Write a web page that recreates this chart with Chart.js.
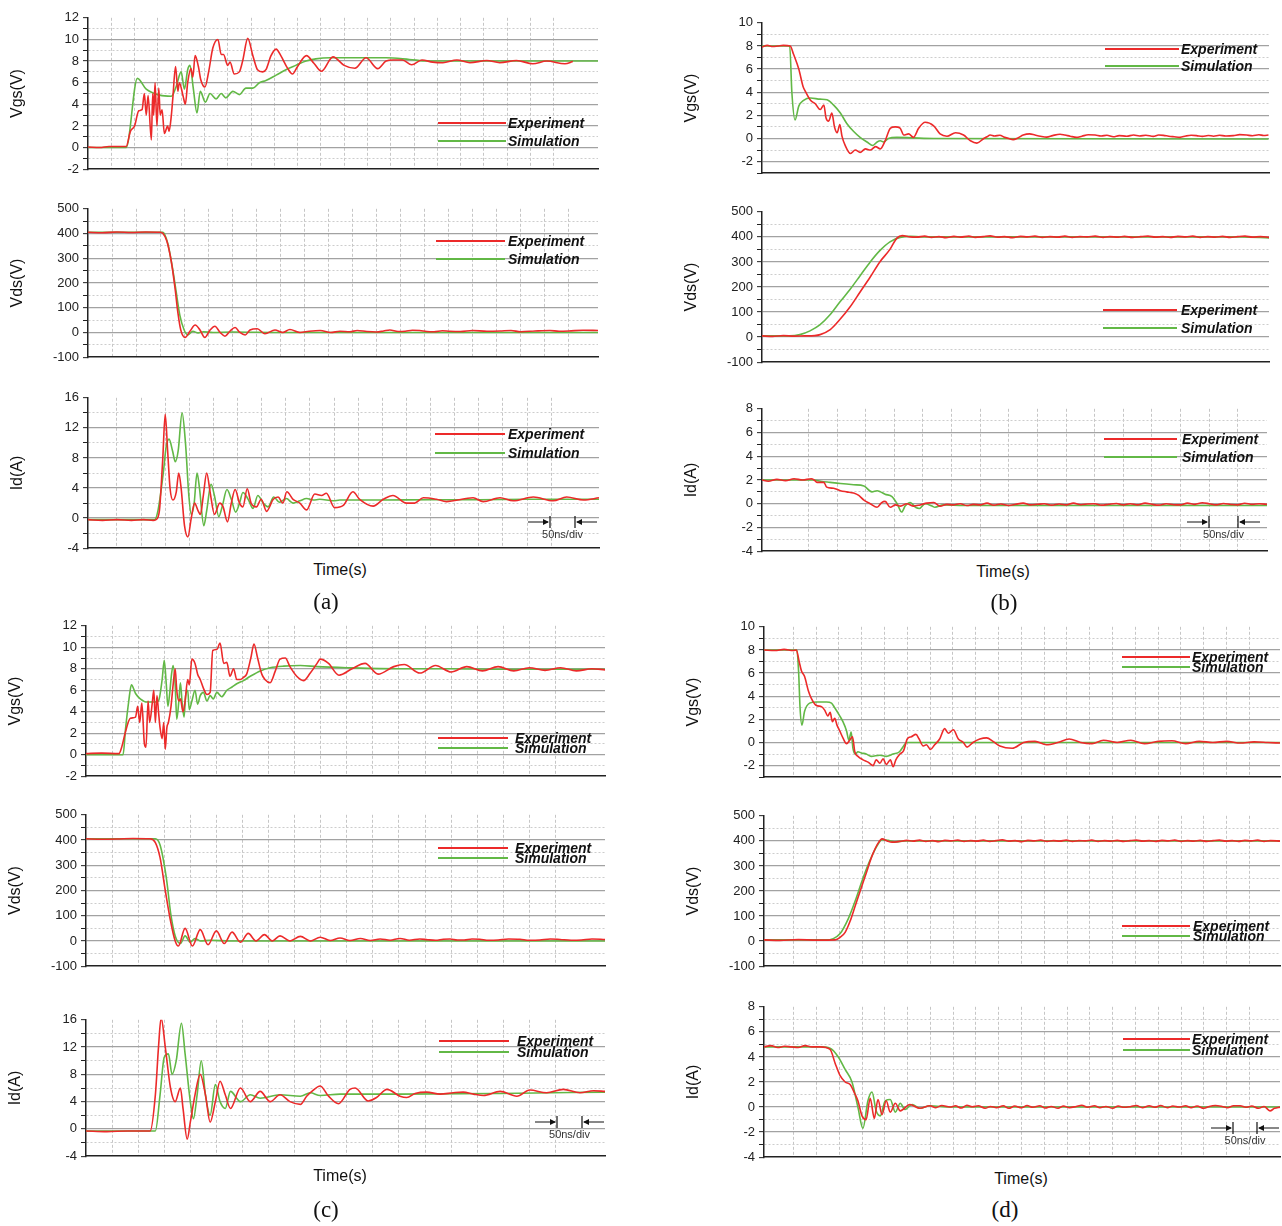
<!DOCTYPE html>
<html lang="en">
<head>
<meta charset="UTF-8">
<title>Switching waveforms: experiment vs simulation</title>
<script src="https://cdn.jsdelivr.net/npm/chart.js"></script>
<style>
  body { margin: 0; background: #fff; width: 1282px; height: 1226px; position: relative; overflow: hidden;
         font-family: "Liberation Sans", Arial, sans-serif; }
  canvas { position: absolute; }
  .lbl { position: absolute; font-size: 16px; color: #111; transform: translate(-50%, -50%); white-space: nowrap; }
  .cap { position: absolute; font-family: "Liberation Serif", "Times New Roman", serif; font-size: 23px; color: #111;
         transform: translate(-50%, -50%); }
</style>
</head>
<body>
<script>
// time in ns (50 ns per grid division), values in V or A

// ---- (a) ----
const aVgsExp = [[0,0.05],[25,0.0],[45,0.1],[82,0.1],[91,1.5],[100,2.0],[109,3.4],[116,3.5],[121,5.0],[125,3.0],[129,4.8],[136,0.7],[139,5.0],[141,3.0],[144,6.0],[148,2.0],[152,5.5],[155,3.0],[159,3.5],[164,1.3],[171,2.0],[174,1.5],[179,3.0],[182,4.5],[188,7.5],[193,5.2],[196,6.0],[204,4.8],[209,4.0],[214,6.0],[221,7.3],[225,6.5],[230,8.5],[237,7.5],[242,6.3],[251,5.6],[259,7.0],[268,9.2],[279,10.0],[286,8.6],[291,8.6],[300,7.6],[305,7.9],[314,6.8],[325,7.0],[332,8.0],[343,10.1],[354,8.5],[364,7.2],[375,7.0],[382,7.2],[393,8.5],[404,9.1],[414,8.5],[429,7.3],[439,6.8],[450,7.5],[469,8.5],[485,7.8],[501,7.06],[526,8.39],[550,7.6],[573,7.33],[597,8.3],[622,7.3],[640,8.0],[655,8.1],[675,8.1],[695,7.66],[717,8.1],[740,7.9],[762,7.85],[792,8.1],[820,7.85],[856,8.05],[884,7.85],[920,8.05],[955,7.75],[985,8.0],[1024,7.75],[1041,7.95]];
const aVgsSim = [[0,0],[82,0],[106,6.4],[125,5.4],[154,4.85],[179,4.75],[189,5.6],[200,7.0],[207,5.4],[214,7.2],[219,7.6],[226,5.5],[234,3.2],[241,5.2],[252,4.2],[262,5.0],[275,4.5],[286,5.0],[296,4.6],[311,5.2],[325,4.9],[339,5.5],[354,5.5],[368,6.0],[382,6.2],[404,6.7],[425,7.2],[446,7.6],[468,8.0],[489,8.2],[520,8.3],[640,8.3],[690,8.15],[730,8.0],[1095,8.0]];
const aVdsExp = [[0,405],[30,403],[60,406],[90,404],[120,406],[150,405],[156,400],[164,370],[173,290],[181,180],[187,80],[193,10],[202,-20],[212,5],[223,30],[233,10],[243,-20],[254,10],[264,25],[275,0],[285,-15],[295,5],[306,20],[316,0],[327,-10],[337,10],[352,15],[368,-5],[389,10],[405,0],[420,12],[441,0],[460,5],[483,8],[505,0],[524,5],[545,3],[560,8],[580,4],[600,2],[615,6],[628,10],[645,4],[660,5],[675,9],[690,8],[705,4],[720,3],[737,7],[753,5],[775,4],[800,8],[830,5],[857,6],[880,8],[900,3],[930,6],[961,8],[980,5],[1000,6],[1030,9],[1061,8]];
const aVdsSim = [[0,405],[156,405],[166,360],[175,270],[183,170],[191,70],[200,10],[208,-10],[218,5],[229,-2],[240,3],[260,0],[300,2],[400,0],[1061,0]];
const aIdExp = [[-10,-0.2],[20,-0.3],[50,-0.2],[80,-0.3],[105,-0.2],[125,-0.3],[131,-0.2],[138,1],[145,8],[150,13.8],[155,9],[160,4],[166,2.4],[173,3.5],[178,6],[183,4],[190,-1],[197,-2.5],[204,0],[211,2.0],[218,1],[223,0.5],[229,3],[236,6],[243,3.5],[252,0.5],[263,2],[270,1.5],[279,-0.5],[287,2],[295,3.8],[304,2],[311,1.5],[320,3.9],[328,2],[339,1.5],[349,2.5],[360,0.9],[374,2.5],[384,2.8],[394,2.0],[402,3.5],[415,2.5],[429,2.0],[443,1.1],[460,3.2],[474,3.0],[484,3.3],[501,1.4],[519,1.7],[539,3.5],[553,2.5],[581,1.6],[602,2.5],[622,3.0],[650,2.0],[667,2.0],[685,2.7],[712,2.5],[733,2.2],[747,2.3],[788,2.7],[809,2.2],[844,2.7],[871,2.3],[913,2.8],[954,2.3],[982,2.8],[1017,2.4],[1049,2.7]];
const aIdSim = [[-10,-0.2],[128,-0.2],[135,1],[146,6],[152,9.5],[158,10.5],[165,9],[171,7.5],[177,9],[185,14],[192,10],[199,3],[204,0.5],[210,2],[216,6],[221,4],[230,-1],[236,1],[245,4.5],[252,3],[261,0.2],[268,1.5],[278,3.8],[287,2.5],[296,0.8],[304,2],[311,3.4],[322,2.5],[332,1.3],[342,3.0],[353,2],[363,1.5],[375,2.8],[387,2.1],[401,2.6],[415,2.0],[429,2.3],[443,2.6],[457,2.4],[470,2.5],[498,2.3],[512,2.4],[540,2.4],[600,2.4],[700,2.45],[800,2.45],[900,2.5],[1049,2.5]];

// ---- (b) ----
const bVgsExp = [[0,7.9],[10,8.05],[20,7.95],[30,8.0],[40,8.05],[53,8.0],[59,7.3],[69,6.0],[77,4.5],[81,4.1],[91,3.3],[100,3.0],[109,2.5],[116,2.9],[120,1.8],[125,1.5],[131,2.2],[136,1.0],[141,0.5],[146,1.2],[150,0.2],[156,-0.6],[166,-1.3],[175,-1.0],[184,-1.2],[194,-0.9],[203,-1.0],[213,-0.7],[222,-0.9],[231,-0.2],[241,0.9],[250,1.0],[259,0.9],[266,0.3],[275,0.4],[284,0.1],[294,0.9],[306,1.4],[322,1.1],[334,0.4],[347,0.2],[363,0.5],[378,0.3],[391,-0.2],[403,-0.4],[416,0.0],[422,0.15],[428,0.3],[436,0.22],[446,0.28],[455,0.1],[463,0.0],[471,-0.1],[480,0.05],[490,0.3],[502,0.4],[512,0.3],[522,0.2],[534,0.12],[545,0.25],[559,0.37],[568,0.3],[578,0.2],[590,0.1],[600,0.2],[612,0.32],[625,0.3],[636,0.22],[647,0.28],[659,0.15],[670,0.25],[684,0.2],[697,0.3],[708,0.22],[720,0.28],[734,0.18],[744,0.3],[753,0.27],[763,0.2],[773,0.15],[784,0.1],[795,0.22],[805,0.28],[815,0.25],[826,0.18],[837,0.26],[847,0.2],[858,0.28],[870,0.22],[884,0.25],[896,0.33],[909,0.3],[920,0.24],[932,0.32],[941,0.26],[950,0.3]];
const bVgsSim = [[0,8],[52,8],[56,4],[62,1.6],[69,2.8],[78,3.3],[91,3.5],[109,3.4],[122,3.35],[134,2.9],[147,2.2],[159,1.3],[172,0.6],[184,0.1],[197,-0.3],[208,-0.6],[216,-0.3],[222,-0.2],[228,-0.3],[237,0.0],[253,0.1],[284,0.05],[322,0.0],[950,-0.05]];
const bVdsExp = [[0,5],[20,3],[40,6],[60,4],[80,5],[99,6],[109,10],[128,30],[146,70],[165,120],[184,180],[203,240],[221,300],[240,350],[253,395],[263,405],[278,400],[290,399],[305,403],[318,398],[332,401],[345,397],[360,402],[372,399],[388,403],[400,398],[415,401],[428,404],[442,399],[455,401],[470,397],[485,402],[498,400],[512,403],[526,398],[540,401],[555,399],[568,403],[582,398],[596,401],[610,400],[625,403],[640,398],[652,401],[668,399],[680,402],[695,398],[710,401],[724,403],[738,399],[752,401],[766,398],[780,402],[795,400],[808,403],[822,398],[836,401],[850,399],[864,402],[878,398],[892,401],[906,403],[920,399],[935,401],[951,398]];
const bVdsSim = [[0,5],[52,5],[71,10],[90,25],[109,50],[128,90],[146,140],[165,190],[184,245],[203,300],[221,345],[240,380],[259,398],[278,402],[300,400],[900,400],[951,396]];
const bIdExp = [[-31,2.0],[-20,1.9],[-5,2.05],[10,1.95],[25,2.1],[40,2.0],[55,2.1],[60,2.0],[65,1.8],[77,1.8],[82,1.4],[94,1.3],[106,1.1],[117,1.0],[129,0.9],[138,0.7],[147,0.3],[158,0.0],[170,-0.3],[178,0.1],[184,0.2],[193,-0.3],[202,-0.1],[211,-0.2],[222,0.0],[234,-0.2],[245,-0.1],[257,0.05],[269,0.1],[280,-0.2],[292,-0.05],[303,-0.1],[315,0.0],[327,-0.15],[338,-0.05],[350,-0.1],[362,0.05],[374,-0.12],[386,-0.02],[400,-0.15],[412,-0.05],[425,0.05],[438,-0.1],[450,-0.05],[462,0.0],[475,-0.12],[488,-0.02],[500,-0.1],[513,0.05],[526,-0.08],[538,-0.02],[550,0.0],[562,-0.12],[575,-0.04],[588,0.02],[600,-0.1],[612,0.0],[625,-0.1],[638,0.05],[650,-0.05],[662,-0.12],[675,0.0],[688,-0.08],[700,-0.1],[712,0.05],[725,-0.05],[738,0.08],[750,0.0],[762,-0.1],[775,0.02],[788,-0.06],[800,-0.1],[812,0.04],[825,-0.05],[838,0.0],[851,-0.05]];
const bIdSim = [[-31,2.0],[60,2.0],[71,1.9],[88,1.8],[106,1.7],[129,1.6],[147,1.5],[161,1.0],[170,1.1],[176,1.0],[184,0.8],[196,0.6],[205,0.0],[213,-0.7],[219,-0.2],[228,0.1],[237,-0.3],[244,-0.4],[254,0.0],[266,-0.2],[271,-0.3],[286,-0.1],[321,-0.15],[851,-0.15]];

// ---- (c) ----
const cVgsExp = [[0,0.1],[30,0.15],[63,0.1],[69,0.8],[75,2.0],[85,3.4],[95,3.5],[99,4.5],[103,3.0],[107,4.8],[112,1.0],[115,0.7],[119,5.0],[122,3.0],[127,4.8],[130,6.0],[133,3.0],[136,5.5],[139,4.0],[142,2.5],[146,1.5],[149,3.0],[152,0.5],[155,2.5],[158,3.0],[163,4.5],[167,6.5],[171,8.0],[174,6.0],[178,5.0],[181,5.2],[186,4.0],[190,5.0],[195,7.0],[198,6.5],[203,8.9],[209,8.5],[214,7.5],[219,7.0],[225,6.2],[232,5.6],[238,5.8],[243,9.7],[251,9.8],[257,10.4],[264,8.5],[270,8.6],[276,7.3],[283,8.0],[289,7.0],[296,7.0],[302,7.2],[308,7.5],[316,9.0],[322,10.3],[329,9.0],[337,7.5],[343,7.0],[353,6.7],[363,7.8],[372,8.9],[382,9.0],[391,8.2],[404,7.3],[417,6.9],[430,7.6],[443,8.5],[449,8.9],[465,8.5],[485,7.4],[510,8.0],[535,8.5],[560,7.5],[590,8.2],[610,8.4],[640,7.6],[670,8.3],[700,7.7],[730,8.2],[760,7.8],[790,8.2],[820,7.8],[850,8.1],[880,7.85],[910,8.1],[940,7.8],[970,8.0],[995,7.9]];
const cVgsSim = [[0,0],[71,0],[76,2.5],[82,5.0],[87,6.5],[95,5.7],[104,5.2],[117,4.9],[133,4.9],[139,5.0],[146,7.0],[150,8.8],[154,6.5],[157,4.5],[160,5.5],[164,7.5],[167,8.3],[171,6.5],[174,3.3],[178,5.0],[181,6.7],[184,5.0],[188,3.5],[191,5.5],[195,6.0],[198,4.2],[203,5.0],[209,6.0],[214,4.7],[219,5.5],[225,5.8],[232,5.0],[238,5.5],[244,5.2],[251,5.8],[260,5.4],[270,6.0],[280,6.3],[289,6.6],[302,6.9],[315,7.3],[334,7.8],[353,8.1],[379,8.25],[411,8.3],[443,8.2],[500,8.1],[600,8.0],[700,8.0],[800,7.95],[995,7.95]];
const cVdsExp = [[0,405],[30,403],[60,404],[90,406],[123,405],[133,390],[142,330],[152,200],[162,80],[171,0],[177,-20],[190,50],[204,-20],[219,45],[234,-15],[250,40],[265,-10],[280,35],[296,-5],[311,30],[326,0],[342,25],[357,0],[372,20],[391,0],[411,18],[430,0],[449,15],[468,2],[487,12],[506,2],[526,10],[545,2],[564,8],[583,3],[602,10],[620,3],[640,8],[655,5],[670,3],[685,7],[698,8],[712,4],[725,4],[740,8],[755,7],[772,3],[790,4],[810,8],[832,7],[850,3],[870,4],[890,8],[909,6],[930,3],[950,4],[970,8],[995,6]];
const cVdsSim = [[0,405],[133,405],[142,380],[154,250],[163,100],[171,20],[181,-10],[190,20],[200,-5],[209,10],[219,0],[238,3],[276,0],[995,0]];
const cIdExp = [[0,-0.3],[40,-0.4],[80,-0.3],[123,-0.3],[133,5],[139,12],[144,16.3],[152,12],[162,6],[171,4],[181,6],[186,3],[194,-1.5],[200,1],[209,5],[219,8],[229,5],[238,1],[248,4],[257,7],[267,5],[277,3],[296,6],[315,4],[334,5.5],[353,4],[372,5],[391,4],[411,3.6],[423,4.8],[433,5.5],[449,6.3],[465,4.8],[484,3.7],[506,5.8],[516,6.0],[541,4.1],[557,4.6],[577,5.8],[602,4.8],[615,4.6],[631,5.2],[653,5.4],[679,5.1],[704,5.3],[723,5.4],[743,5.1],[762,4.9],[794,5.5],[826,4.8],[851,5.7],[883,5.3],[915,5.8],[947,5.3],[973,5.6],[995,5.5]];
const cIdSim = [[0,-0.3],[133,-0.3],[142,5],[150,10.5],[158,11],[165,8],[173,10],[183,15.5],[190,11],[200,4],[206,1.5],[213,5],[221,10],[229,5],[238,2],[248,6.5],[257,4],[267,3],[277,5.5],[296,4],[315,5],[334,4.5],[372,5],[411,4.8],[430,5.3],[449,4.9],[487,5.1],[602,5.1],[794,5.2],[995,5.4]];

// ---- (d) ----
const dVgsExp = [[-14,8.0],[10,7.95],[30,8.05],[50,7.95],[57,8.0],[63,7.0],[68,6.2],[75,5.7],[83,4.5],[90,3.8],[101,3.2],[112,3.1],[119,2.8],[126,2.3],[131,2.6],[136,1.8],[141,2.1],[146,1.5],[152,1.0],[159,0.4],[167,-0.1],[174,0.2],[180,0.5],[185,-0.8],[192,-1.2],[203,-1.5],[214,-1.7],[225,-2.0],[232,-1.5],[240,-1.8],[247,-1.4],[254,-1.9],[263,-1.5],[269,-2.1],[275,-1.5],[284,-1.0],[292,-0.7],[300,0.3],[309,0.5],[319,0.7],[326,0.3],[335,-0.3],[342,-0.2],[351,-0.6],[360,-0.2],[371,0.3],[382,1.2],[390,0.8],[401,1.1],[412,0.3],[423,0.0],[431,-0.4],[444,0.0],[459,0.3],[474,0.4],[488,0.1],[503,-0.3],[530,-0.5],[555,0.0],[580,0.1],[605,-0.2],[630,0.0],[655,0.3],[680,0.0],[705,-0.1],[730,0.2],[760,0.0],[790,0.2],[820,-0.1],[850,0.1],[880,0.15],[910,-0.1],[940,0.1],[970,0.0],[1000,0.1],[1030,-0.05],[1060,0.05],[1090,0.0],[1117,-0.05]];
const dVgsSim = [[-14,8],[58,8],[62,6],[65,3],[69,1.5],[75,2.7],[86,3.4],[101,3.5],[123,3.5],[134,3.4],[141,3.0],[152,2.3],[159,1.8],[167,1.0],[172,0.2],[177,0.9],[181,-0.5],[186,-1.0],[192,-0.8],[199,-0.9],[210,-1.0],[221,-1.2],[240,-1.1],[254,-1.2],[269,-1.0],[283,-0.8],[292,-0.3],[298,0.0],[350,0.0],[1117,0.0]];
const dVdsExp = [[-15,5],[20,3],[60,6],[100,4],[141,5],[152,15],[163,35],[174,80],[185,140],[196,200],[209,270],[222,340],[235,390],[244,408],[255,400],[266,395],[283,398],[298,402],[312,399],[326,403],[340,398],[355,401],[368,397],[382,402],[396,400],[410,403],[424,398],[438,401],[452,399],[466,403],[480,398],[494,401],[508,404],[522,399],[536,401],[550,397],[564,402],[578,400],[592,403],[606,398],[620,401],[634,399],[648,403],[662,398],[676,401],[690,400],[704,403],[718,398],[732,401],[746,399],[760,402],[774,398],[788,401],[802,403],[816,399],[830,401],[844,398],[858,402],[872,400],[886,403],[900,398],[914,401],[928,399],[942,402],[956,398],[970,401],[984,403],[998,399],[1012,401],[1026,398],[1040,402],[1054,400],[1068,403],[1082,398],[1096,401],[1117,399]];
const dVdsSim = [[-15,5],[119,5],[137,10],[152,30],[170,90],[185,160],[200,240],[217,320],[233,380],[244,405],[257,402],[272,396],[294,400],[1117,400]];
const dIdExp = [[-15,4.8],[0,4.9],[15,4.75],[30,4.85],[45,4.8],[60,4.75],[75,4.9],[90,4.8],[108,4.8],[130,4.6],[141,3.5],[152,2.5],[163,2.0],[174,1.8],[185,1.0],[191,0.5],[200,-0.7],[209,-1.0],[218,0.7],[227,-0.9],[235,0.6],[244,-0.6],[253,0.5],[262,-0.4],[273,0.3],[284,-0.3],[305,0.2],[327,-0.1],[349,0.1],[362,-0.05],[375,0.12],[393,0.0],[405,0.1],[418,-0.08],[430,0.15],[442,0.02],[455,0.1],[470,-0.1],[482,0.05],[495,-0.05],[510,0.1],[522,-0.1],[535,0.08],[550,-0.05],[562,0.12],[575,-0.02],[590,0.1],[602,-0.08],[615,0.05],[630,-0.1],[642,0.08],[655,-0.05],[670,0.05],[682,0.15],[695,-0.02],[710,0.1],[722,-0.05],[735,0.05],[750,-0.1],[762,0.08],[775,-0.02],[790,0.05],[802,0.12],[815,-0.05],[830,0.1],[842,-0.02],[855,0.12],[870,-0.05],[882,0.08],[895,0.0],[910,0.1],[922,-0.05],[935,0.08],[950,-0.1],[962,0.05],[975,0.12],[990,0.05],[1002,-0.05],[1015,0.1],[1030,0.1],[1042,-0.02],[1055,0.08],[1070,-0.1],[1082,0.05],[1095,-0.3],[1105,-0.1],[1117,0.0]];
const dIdSim = [[-15,4.8],[108,4.8],[130,4.7],[148,4.0],[163,3.0],[178,2.0],[191,0],[202,-1.7],[213,0.5],[222,1.2],[231,-0.3],[240,-0.7],[251,0.5],[262,0.6],[273,-0.4],[284,0.3],[294,-0.2],[310,0.2],[327,-0.1],[349,0.1],[393,0.0],[1117,0.0]];

// y axis ranges: [min, max, minor step, major step]
const vgsRange12 = [-2, 12, 1, 2];
const vgsRange10 = [-3, 10, 1, 2];
const vdsRange = [-100, 500, 50, 100];
const id16Range = [-4, 16, 2, 4];
const id8Range = [-4, 8, 1, 2];

const RED = '#ec2a2a';
const GREEN = '#62b846';
Chart.defaults.font.family = '"Liberation Sans", Arial, sans-serif';
Chart.defaults.font.size = 13;
Chart.defaults.color = '#222';

const toXY = arr => arr.map(p => ({ x: p[0], y: p[1] }));
const CLEAR = 'rgba(0,0,0,0)';

// legend (line + bold italic text) and the "50ns/div" marker, placed in page pixels
const paperLegend = {
  id: 'paperLegend',
  afterDraw(chart, args, o) {
    const ctx = chart.ctx;
    const ox = o.offX, oy = o.offY;
    ctx.save();
    chart.data.datasets.forEach((ds, i) => {
      const y = o.ys[i] - oy;
      ctx.strokeStyle = ds.borderColor; ctx.lineWidth = 2;
      ctx.beginPath(); ctx.moveTo(o.x1 - ox, y); ctx.lineTo(o.x2 - ox, y); ctx.stroke();
      ctx.fillStyle = '#111';
      ctx.font = 'italic bold 14px "Liberation Sans", Arial, sans-serif';
      ctx.textBaseline = 'middle'; ctx.textAlign = 'left';
      ctx.fillText(ds.label, o.tx - ox, y + 1);
    });
    if (o.div) {
      const d = o.div, y = d.y - oy, b1 = d.b1 - ox, b2 = d.b2 - ox;
      ctx.strokeStyle = '#111'; ctx.fillStyle = '#111'; ctx.lineWidth = 1.2;
      ctx.beginPath();
      ctx.moveTo(b1, y - 6); ctx.lineTo(b1, y + 6);
      ctx.moveTo(b2, y - 6); ctx.lineTo(b2, y + 6);
      ctx.moveTo(b1 - 22, y); ctx.lineTo(b1 - 2, y);
      ctx.moveTo(b2 + 22, y); ctx.lineTo(b2 + 2, y);
      ctx.stroke();
      ctx.beginPath();
      ctx.moveTo(b1 - 1, y); ctx.lineTo(b1 - 7, y - 3); ctx.lineTo(b1 - 7, y + 3); ctx.closePath();
      ctx.moveTo(b2 + 1, y); ctx.lineTo(b2 + 7, y - 3); ctx.lineTo(b2 + 7, y + 3); ctx.closePath();
      ctx.fill();
      ctx.font = '11px "Liberation Sans", Arial, sans-serif';
      ctx.fillStyle = '#333'; ctx.textAlign = 'center'; ctx.textBaseline = 'middle';
      ctx.fillText('50ns/div', (b1 + b2) / 2, y + 13);
    }
    ctx.restore();
  }
};

function makeChart(box, xr, yr, title, exp, sim, leg) {
  const axisW = 80, padT = 10, padB = 8, padR = 2;
  const left = box[0] - axisW, top = box[1] - padT;
  const w = box[2] - box[0] + axisW + padR;
  const h = box[3] - box[1] + padT + padB + 2;
  const cv = document.createElement('canvas');
  cv.width = w; cv.height = h;
  cv.style.left = left + 'px'; cv.style.top = top + 'px';
  cv.style.width = w + 'px'; cv.style.height = h + 'px';
  document.body.appendChild(cv);

  const [yMin, yMax, yStep, yMajor] = yr;
  const isMajor = v => Math.abs(v / yMajor - Math.round(v / yMajor)) < 1e-6;
  const onGrid = v => Math.abs(v / 50 - Math.round(v / 50)) < 1e-6;
  const line = { pointRadius: 0, borderWidth: 1.6, cubicInterpolationMode: 'monotone' };

  new Chart(cv, {
    type: 'line',
    data: {
      datasets: [
        Object.assign({ label: 'Experiment', data: toXY(exp), borderColor: RED, order: 1 }, line),
        Object.assign({ label: 'Simulation', data: toXY(sim), borderColor: GREEN, order: 2 }, line)
      ]
    },
    options: {
      responsive: false,
      animation: false,
      events: [],
      layout: { padding: { top: padT, bottom: padB, left: 0, right: padR } },
      plugins: {
        legend: { display: false },
        tooltip: { enabled: false },
        paperLegend: Object.assign({ offX: left, offY: top }, leg)
      },
      scales: {
        x: {
          type: 'linear', min: xr[0], max: xr[1],
          afterFit: s => { s.height = 2; },
          ticks: { display: false, stepSize: 50 },
          grid: {
            drawTicks: false, lineWidth: 1,
            color: c => (c.tick && onGrid(c.tick.value) && c.tick.value > xr[0] && c.tick.value < xr[1]) ? '#c6c6c6' : CLEAR
          },
          border: { color: '#222', width: 1.5, dash: () => [3, 2] }
        },
        y: {
          type: 'linear', min: yMin, max: yMax,
          afterFit: s => { s.width = axisW; },
          ticks: {
            stepSize: yStep, autoSkip: false, padding: 4,
            callback: v => isMajor(v) ? String(v) : ''
          },
          grid: {
            tickLength: 5, tickWidth: 1, tickColor: '#222', tickBorderDash: [],
            lineWidth: c => (c.tick && isMajor(c.tick.value)) ? 1.3 : 1,
            color: c => {
              if (!c.tick) return CLEAR;
              const v = c.tick.value;
              if (v <= yMin || v >= yMax) return CLEAR;
              return isMajor(v) ? '#a2a2a2' : '#cdcdcd';
            }
          },
          border: {
            color: '#222', width: 1.5,
            dash: c => (c.tick && !isMajor(c.tick.value)) ? [2, 2] : []
          },
          title: { display: true, text: title, font: { size: 16 }, color: '#111', padding: { top: 0, bottom: 0 } }
        }
      }
    },
    plugins: [paperLegend]
  });
}

// panel (a)
makeChart([88, 16, 598, 171], [0, 1095], vgsRange12, 'Vgs(V)', aVgsExp, aVgsSim,
  { x1: 438, x2: 506, tx: 508, ys: [123, 141] });
makeChart([88, 207, 598, 359], [0, 1061], vdsRange, 'Vds(V)', aVdsExp, aVdsSim,
  { x1: 436, x2: 505, tx: 508, ys: [241, 259] });
makeChart([88, 396, 599, 550], [-10, 1049], id16Range, 'Id(A)', aIdExp, aIdSim,
  { x1: 435, x2: 505, tx: 508, ys: [434, 453], div: { b1: 550, b2: 575, y: 522 } });

// panel (b)
makeChart([762, 21, 1269, 175], [0, 951], vgsRange10, 'Vgs(V)', bVgsExp, bVgsSim,
  { x1: 1105, x2: 1179, tx: 1181, ys: [49, 66] });
makeChart([762, 210, 1269, 364], [0, 951], vdsRange, 'Vds(V)', bVdsExp, bVdsSim,
  { x1: 1103, x2: 1177, tx: 1181, ys: [310, 328] });
makeChart([762, 407, 1267, 553], [-31, 851], id8Range, 'Id(A)', bIdExp, bIdSim,
  { x1: 1104, x2: 1177, tx: 1182, ys: [439, 457], div: { b1: 1209, b2: 1238, y: 522 } });

// panel (c)
makeChart([86, 624, 605, 778], [0, 995], vgsRange12, 'Vgs(V)', cVgsExp, cVgsSim,
  { x1: 438, x2: 508, tx: 515, ys: [738, 748] });
makeChart([86, 813, 605, 968], [0, 995], vdsRange, 'Vds(V)', cVdsExp, cVdsSim,
  { x1: 438, x2: 508, tx: 515, ys: [848, 858] });
makeChart([86, 1018, 605, 1158], [0, 995], id16Range, 'Id(A)', cIdExp, cIdSim,
  { x1: 439, x2: 509, tx: 517, ys: [1041, 1052], div: { b1: 557, b2: 582, y: 1122 } });

// panel (d)
makeChart([764, 625, 1280, 779], [-14, 1117], vgsRange10, 'Vgs(V)', dVgsExp, dVgsSim,
  { x1: 1122, x2: 1190, tx: 1192, ys: [657, 667] });
makeChart([764, 814, 1280, 968], [-15, 1117], vdsRange, 'Vds(V)', dVdsExp, dVdsSim,
  { x1: 1122, x2: 1190, tx: 1193, ys: [926, 936] });
makeChart([764, 1005, 1280, 1159], [-15, 1117], id8Range, 'Id(A)', dIdExp, dIdSim,
  { x1: 1123, x2: 1190, tx: 1192, ys: [1039, 1050], div: { b1: 1233, b2: 1257, y: 1128 } });

// axis captions and sub-figure letters
[['Time(s)', 340, 570], ['Time(s)', 1003, 572], ['Time(s)', 340, 1176], ['Time(s)', 1021, 1179]].forEach(t => {
  const d = document.createElement('div');
  d.className = 'lbl'; d.textContent = t[0];
  d.style.left = t[1] + 'px'; d.style.top = t[2] + 'px';
  document.body.appendChild(d);
});
[['(a)', 326, 602], ['(b)', 1004, 603], ['(c)', 326, 1210], ['(d)', 1005, 1210]].forEach(t => {
  const d = document.createElement('div');
  d.className = 'cap'; d.textContent = t[0];
  d.style.left = t[1] + 'px'; d.style.top = t[2] + 'px';
  document.body.appendChild(d);
});
</script>
</body>
</html>
